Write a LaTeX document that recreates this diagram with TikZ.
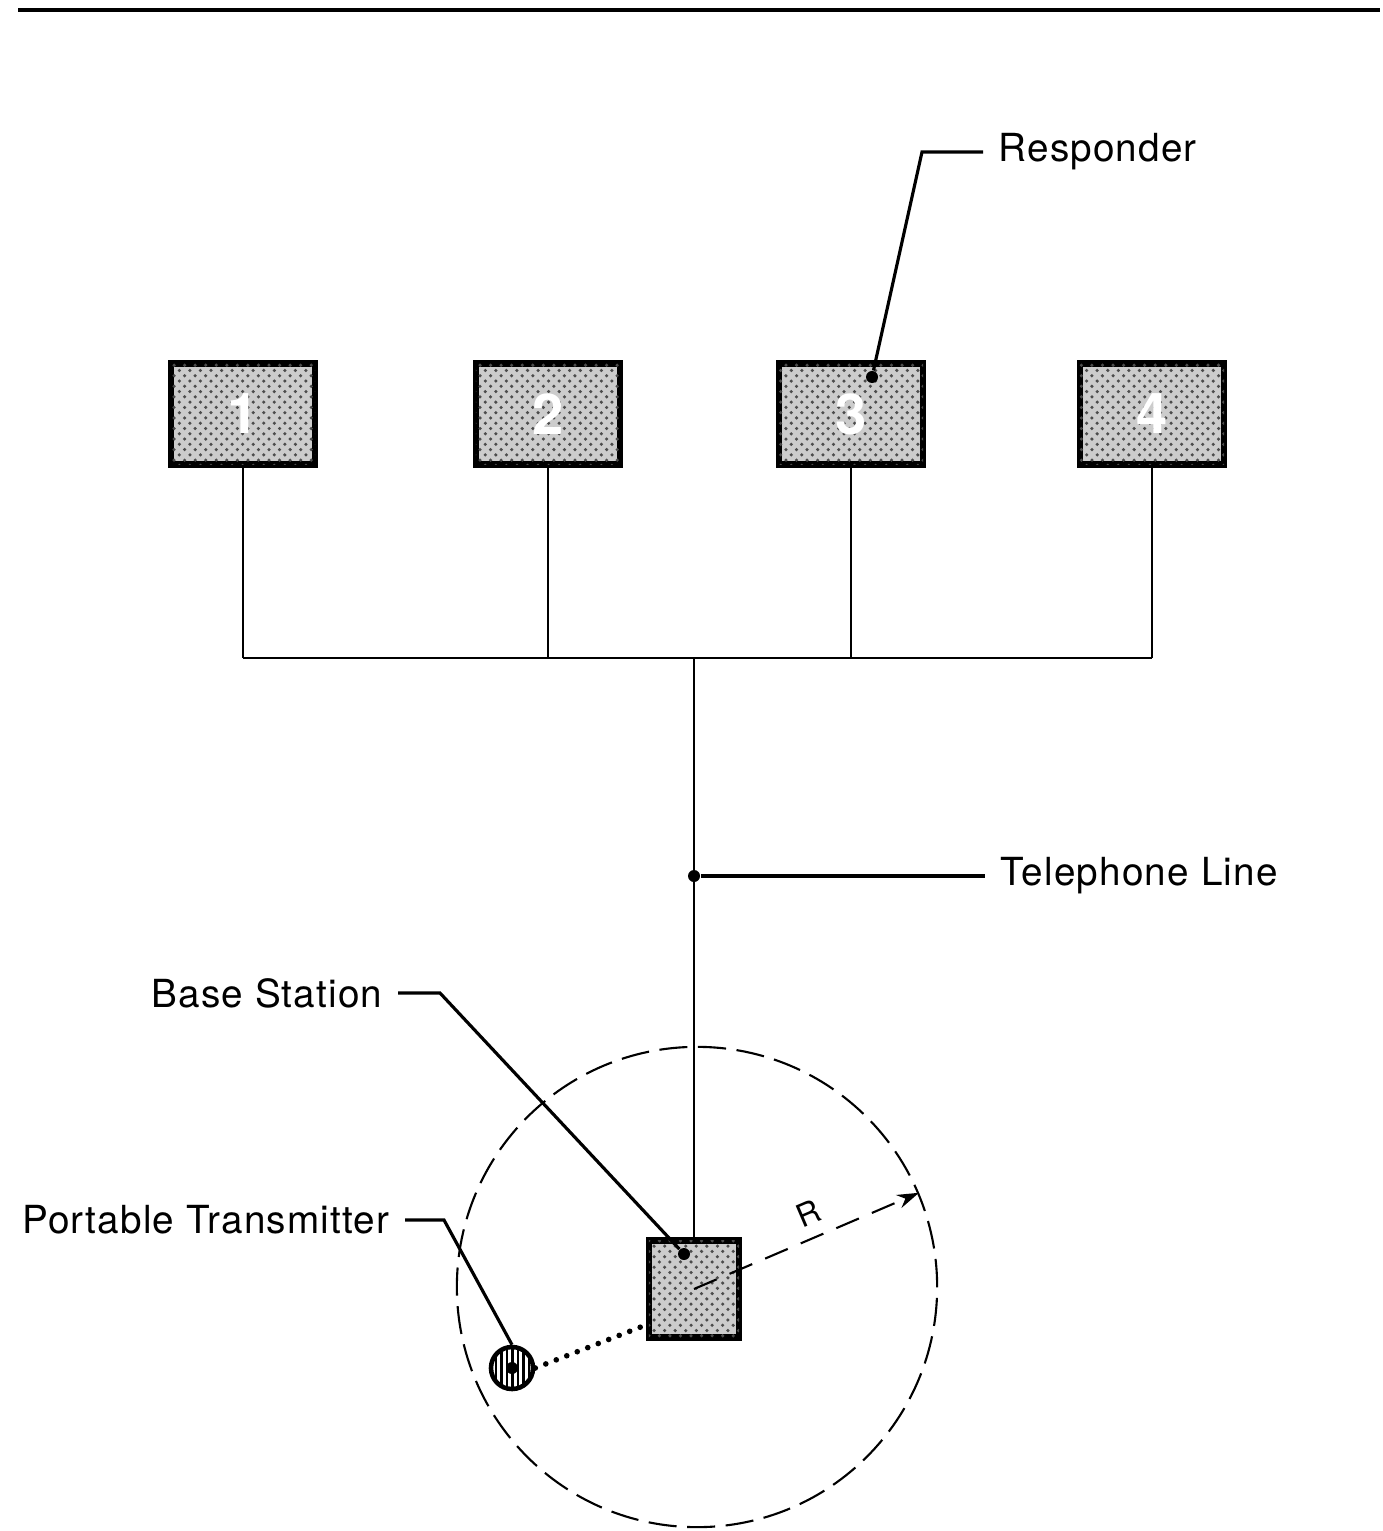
\documentclass[tikz,border=0pt]{standalone}
\usepackage{fontspec}
\setmainfont{TeX Gyre Heros}[LetterSpace=3]
\usetikzlibrary{arrows.meta, calc, patterns}
\tikzset{
  wire/.style={line width=0.6pt},
  lead/.style={line width=0.9pt},
  lbl/.style={font=\fontsize{11}{13}\selectfont, inner xsep=0.15cm, inner ysep=1pt},
  blob/.style={circle, fill=black, inner sep=0pt, minimum size=0.12cm},
  unitbox/.style={draw, line width=1.8pt, fill=gray!40, inner sep=0pt,
    postaction={pattern=crosshatch dots, pattern color=gray!60!black}},
}

\begin{document}
\begin{tikzpicture}[x=0.01cm, y=-0.01cm,
  resp/.style={unitbox, minimum width=1.44cm, minimum height=1.01cm, text=white, font=\fontsize{16}{16}\selectfont\bfseries},
  coverage/.style={circle, draw, line width=0.6pt, dash pattern=on 8pt off 3pt, minimum size=4.8cm, inner sep=0pt},
  rarrow/.style={line width=0.6pt, dash pattern=on 7pt off 4pt, -{Stealth[length=0.22cm, width=0.14cm]}},
  dotlink/.style={line width=1.6pt, line cap=round, dash pattern=on 0pt off 3.2pt},
  hatched/.style={circle, draw, line width=1.3pt, minimum size=0.42cm, inner sep=0pt,
    path picture={\foreach \i in {-16,-10.5,...,17}
      \draw[line width=0.75pt] ([xshift=\i*0.01cm]path picture bounding box.north) -- ([xshift=\i*0.01cm]path picture bounding box.south);}}]
  \useasboundingbox (0,0) rectangle (1382,1531);
  \draw[line width=1pt] (18,10) -- (1380,10);

  \foreach \x/\n in {243/1, 548/2, 851/3, 1152/4}
    \node[resp] (r\n) at (\x,414) {\n};
  \node[coverage] (cov) at (697,1287) {};
  \node[unitbox, minimum width=0.90cm, minimum height=0.97cm] (base) at (694,1289) {};
  \node[hatched] (tx) at (512,1368) {};

  \coordinate (bus) at (base.north |- 0,658);
  \foreach \n in {1,...,4}
    \draw[wire] (r\n.south) -- (r\n.south |- bus);
  \draw[wire] (r1.south |- bus) -- (r4.south |- bus);
  \draw[wire] (bus) -- (base.north);

  \node[lbl, anchor=west] (resplbl) at (983,152) {Responder};
  \node[blob] (d3) at ($(r3.center)+(21,-37)$) {};
  \coordinate (respbend) at (922,152);
  \draw[lead] (d3) -- (respbend) -- (resplbl.west);

  \node[lbl, anchor=west] (tellbl) at (985,876) {Telephone Line};
  \node[blob] (dtel) at (base.north |- 0,876) {};
  \draw[lead] (dtel) -- (tellbl.west);

  \node[lbl, anchor=east] (baselbl) at (398,993) {Base Station};
  \node[blob] (dbase) at ($(base.center)+(-10,-35)$) {};
  \coordinate (basebend) at (440,993);
  \draw[lead] (baselbl.east) -- (basebend) -- (dbase);

  \node[lbl, anchor=east] (txlbl) at (405,1220) {Portable Transmitter};
  \node[blob] (dtx) at (tx.center) {};
  \coordinate (txbend) at (444,1220);
  \draw[lead] (txlbl.east) -- (txbend) -- (tx.north);

  \draw[dotlink] (tx.east) -- ([yshift=-0.36cm]base.west);
  \draw[rarrow] (base.center) -- (cov.23) node[pos=0.55, above, sloped, font=\fontsize{9}{10}\selectfont] (rlbl) {R};
\end{tikzpicture}
\end{document}
